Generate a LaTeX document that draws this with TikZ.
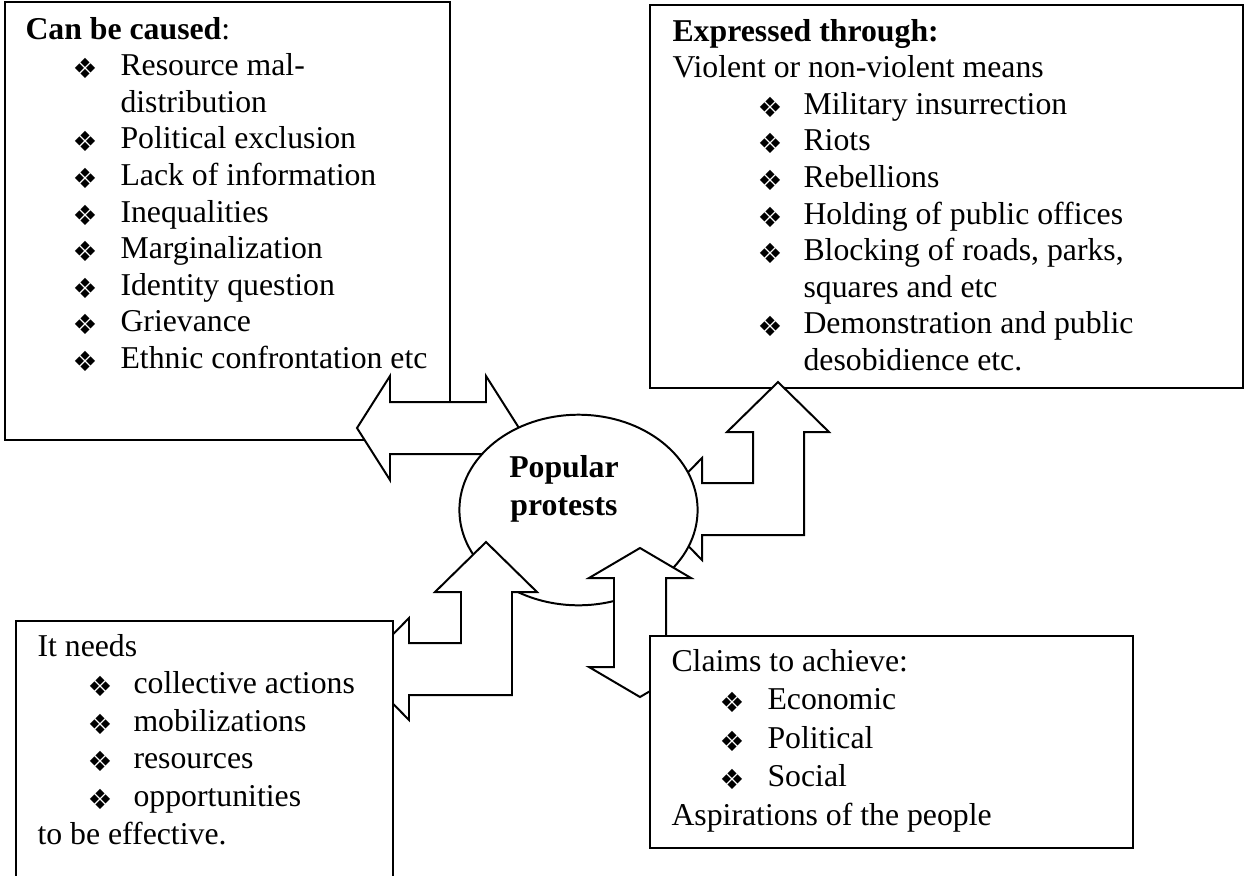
\documentclass[tikz,border=0pt]{standalone}
\usepackage{fontspec}
\setmainfont{Liberation Serif}
\newfontfamily\dingfont{DejaVu Sans}
\usetikzlibrary{shapes.geometric,fit}
\begin{document}
\begin{tikzpicture}[x=0.3778pt,y=-0.3778pt,
  txt/.style={anchor=mid west,inner sep=0pt,font=\fontsize{12}{13.8}\selectfont},
  blt/.style={anchor=center,inner sep=0pt,font=\dingfont\fontsize{10.5}{11}\selectfont},
  box/.style={draw,fill=white,line width=0.75pt,inner sep=0pt},
  blockarrow/.style={draw,fill=white,line width=0.75pt,line join=miter}]
\useasboundingbox (0,0) rectangle (1246,875);
\clip (0,0) rectangle (1246,875);

% corner coordinates of the boxes
\coordinate (tla) at (5,2);     \coordinate (tlb) at (450,440);
\coordinate (tra) at (650,5);   \coordinate (trb) at (1243,388);
\coordinate (bla) at (16,621);  \coordinate (blb) at (393,890);
\coordinate (bra) at (650,636); \coordinate (brb) at (1133,848);

% top boxes
\node[box,fit=(tla)(tlb)] (causes) {};
\node[box,fit=(tra)(trb)] (expressed) {};

% left-right block arrow
\draw[blockarrow] (357,428) -- (390,376) -- (390,402) -- (486,402) -- (486,376)
  -- (519,428) -- (486,480) -- (486,454) -- (390,454) -- (390,480) -- cycle;
% left-up block arrow (to top-right box)
\draw[blockarrow] (652,509) -- (702,458) -- (702,483) -- (753,483) -- (753,432)
  -- (727,432) -- (778,382) -- (829,432) -- (804,432) -- (804,535) -- (702,535)
  -- (702,560) -- cycle;

% central ellipse
\node[ellipse,draw,fill=white,line width=0.75pt,minimum width=90pt,minimum height=72pt,inner sep=0pt] (pp) at (578.5,510) {};
\node[align=center,inner sep=0pt,font=\fontsize{12}{14.4}\selectfont\bfseries] (pptext) at (564,489) {Popular\\protests};

% left-up block arrow (from bottom-left box)
\draw[blockarrow] (359,669) -- (409,618) -- (409,643) -- (461,643) -- (461,592)
  -- (435,592) -- (486,542) -- (537,592) -- (512,592) -- (512,695) -- (409,695)
  -- (409,720) -- cycle;
% up-down block arrow
\draw[blockarrow] (640,548) -- (691,578) -- (666,578) -- (666,667) -- (691,667)
  -- (640,697) -- (589,667) -- (614,667) -- (614,578) -- (589,578) -- cycle;

% bottom boxes
\node[box,fit=(bla)(blb)] (needs) {};
\node[box,fit=(bra)(brb)] (claims) {};

% texts of the top-left box
\node[txt] (c0) at (25,33) {\textbf{Can be caused}:};
\foreach \t/\y/\b in {Resource mal-/69.6/1, distribution/106.2/0, Political exclusion/142.8/1,
  Lack of information/179.4/1, Inequalities/216/1, Marginalization/252.6/1,
  Identity question/289.2/1, Grievance/325.8/1, Ethnic confrontation etc/362.4/1}{
  \node[txt] at (120,\y) {\t};
  \ifnum\b=1 \node[blt] at (85,\y-1) {❖};\fi
}

% texts of the top-right box
\node[txt] (e0) at (672,35) {\textbf{Expressed through:}};
\node[txt] (e1) at (672,71.6) {Violent or non-violent means};
\foreach \t/\y/\b in {Military insurrection/108.2/1, Riots/144.8/1, Rebellions/181.4/1,
  Holding of public offices/218/1, {Blocking of roads, parks,}/254.6/1, squares and etc/291.2/0,
  Demonstration and public/327.8/1, desobidience etc./364.4/0}{
  \node[txt] at (803,\y) {\t};
  \ifnum\b=1 \node[blt] at (770,\y-1) {❖};\fi
}

% texts of the bottom-left box
\node[txt] (n0) at (37,650) {It needs};
\foreach \t/\y in {collective actions/687.6, mobilizations/725.2, resources/762.8, opportunities/800.4}{
  \node[txt] at (133,\y) {\t};
  \node[blt] at (100,\y-1) {❖};
}
\node[txt] (n5) at (37,838) {to be effective.};

% texts of the bottom-right box
\node[txt] (k0) at (671,665) {Claims to achieve:};
\foreach \t/\y in {Economic/703.5, Political/742, Social/780.5}{
  \node[txt] at (767,\y) {\t};
  \node[blt] at (732,\y-1) {❖};
}
\node[txt] (k4) at (671,819) {Aspirations of the people};
\end{tikzpicture}
\end{document}
